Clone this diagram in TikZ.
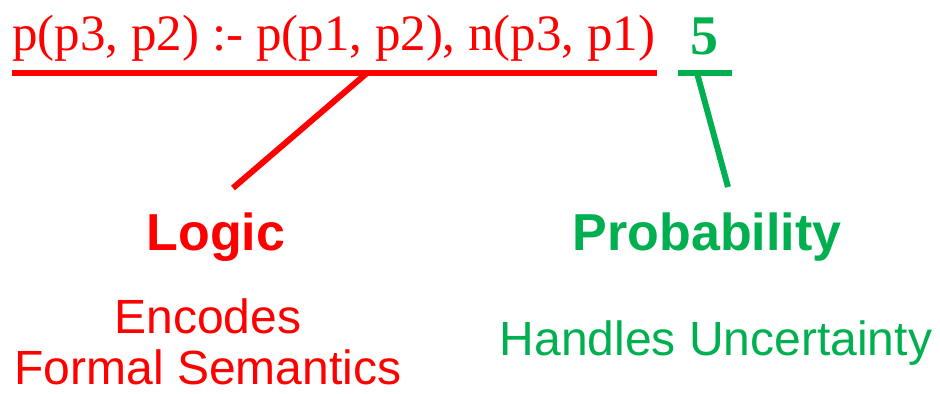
\documentclass[tikz,border=0pt]{standalone}
\usepackage{fontspec}
\setmainfont{Liberation Serif}
\setsansfont{Liberation Sans}
\usetikzlibrary{positioning}
\usepackage{xcolor}
\definecolor{RuleRed}{RGB}{255,0,0}
\definecolor{ProbGreen}{RGB}{0,176,80}
\tikzset{
  formula/.style={inner sep=0pt,font=\fontsize{25.5}{30}\selectfont},
  wnum/.style={inner sep=0pt,font=\bfseries\fontsize{28}{30}\selectfont},
  headline/.style={inner sep=0pt,font=\sffamily\bfseries\fontsize{26}{30}\selectfont},
  caption/.style={inner sep=0pt,font=\sffamily\fontsize{24}{25.5}\selectfont,align=center},
  uline/.style={line width=3pt},
  pointer/.style={line width=3pt},
}

\begin{document}
\begin{tikzpicture}[x=0.5pt,y=-0.5pt]
    \useasboundingbox (0,0) rectangle (940,393);
    % weighted rule
    \node[formula,RuleRed,anchor=base west] (rule) at (12,50) {p(p3, p2) :- p(p1, p2), n(p3, p1)};
    \node[wnum,ProbGreen,anchor=base] (weight) at (704,54) {5};
    \coordinate (ruleL) at (12,73);
    \coordinate (ruleR) at (657,73);
    \coordinate (rulefoot) at (367,73);
    \coordinate (wL) at (678,73);
    \coordinate (wR) at (732,73);
    \coordinate (wfoot) at (697,73);
    \draw[uline,RuleRed] (ruleL) -- (ruleR);
    \draw[uline,ProbGreen] (wL) -- (wR);
    % the two halves
    \node[headline,RuleRed,anchor=base] (logic) at (216,250) {Logic};
    \node[headline,ProbGreen,anchor=base] (prob) at (707,250) {Probability};
    \node[caption,RuleRed,anchor=north] (logicnote) at (208,298) {Encodes\\Formal Semantics};
    \node[caption,ProbGreen,anchor=base] (probnote) at (716,355) {Handles Uncertainty};
    \coordinate (logictip) at (233,188);
    \coordinate (probtip) at (728,187);
    \draw[pointer,RuleRed] (rulefoot) -- (logictip);
    \draw[pointer,ProbGreen] (wfoot) -- (probtip);
\end{tikzpicture}
\end{document}
